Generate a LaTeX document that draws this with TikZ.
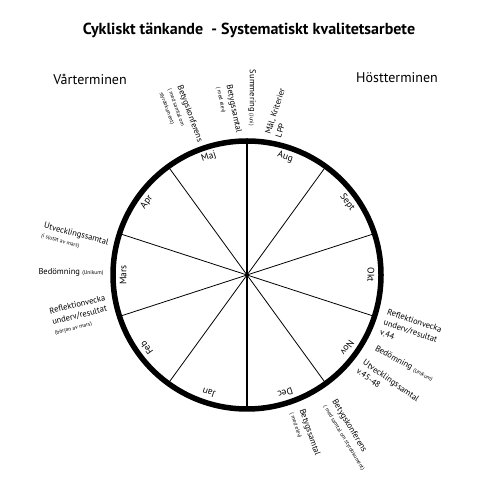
\documentclass[tikz,border=0pt]{standalone}
\usepackage{fontspec}
\setmainfont{PT Sans}
\usetikzlibrary{calc}
\newcommand\sml[1]{{\fontsize{5.5}{7}\selectfont #1}}
\begin{document}
\begin{tikzpicture}[x=1pt,y=1pt,
  month/.style={font=\fontsize{9.5}{11}\selectfont},
  note/.style={font=\fontsize{8.5}{11}\selectfont,align=left,inner sep=0pt},
  term/.style={font=\fontsize{14}{16}\selectfont},
  spoke/.style={line width=0.8pt}]
\useasboundingbox (0,0) rectangle (500,500);
\coordinate (c) at (247,225);
\node[font=\bfseries\fontsize{16}{18}\selectfont] (title) at (249,470)
  {Cykliskt tänkande\ \ - Systematiskt kvalitetsarbete};
\node[term] (vt) at (90,421) {Vårterminen};
\node[term] (ht) at (397,422) {Höstterminen};
% hjulet
\foreach \a in {18,54,-18,-54}
  \draw[spoke] ($(c)+(\a:134)$) -- ($(c)+(\a+180:134)$);
\draw[line width=2.5pt] ($(c)+(0,134)$) -- ($(c)+(0,-134)$);
\draw[line width=5.5pt] (c) circle (134);
\foreach \m [count=\i] in {Aug,Sept,Okt,Nov,Dec,Jan,Feb,Mars,Apr,Maj}{
  \pgfmathsetmacro\a{108-36*\i}
  \node[month,rotate=\a-90] (m\i) at ($(c)+(\a:124)$) {\m};
}
% vårterminen
\node[note,rotate=-15] (utv1) at (75,261) {Utvecklingssamtal\\[-1pt]\sml{(i slutat av mars)}};
\node[note] (bed1) at (71,228) {Bedömning \sml{(Unikum)}};
\node[note,rotate=14] (ref1) at (80,185) {Reflektionvecka\\underv/resultat\\[-1pt]\sml{(början av mars)}};
% höstterminen
\node[note,rotate=-19] (ref2) at (411,169) {Reflektionvecka\\underv/resultat\\v.44};
\node[note,rotate=-29] (bed2) at (404,136) {Bedömning \sml{(Unikum)}};
\node[note,rotate=-35] (utv2) at (388,115) {Utvecklingssamtal\\v.45-48};
\node[note,rotate=-59] (konf2) at (349,65) {Betygskonferens\\[-1pt]\sml{( med samtal om styrdokument)}};
\node[note,rotate=-71] (samt2) at (305,66) {Betygssamtal\\[-1pt]\sml{( med elev)}};
% juni
\node[note,rotate=-90] (summ) at (252,402) {Summering \sml{(Juni)}};
\node[note,rotate=72] (mal) at (280,387) {Mål, Kriterier\\LPP};
\node[note,rotate=-78] (samt1) at (229,390) {Betygssamtal\\[-1pt]\sml{( med elev)}};
\node[note,rotate=-70] (konf1) at (181,383) {Betygskonferens\\[-1pt]\sml{( med samtal om}\\[-2pt]\sml{styrdokument)}};
\end{tikzpicture}
\end{document}
